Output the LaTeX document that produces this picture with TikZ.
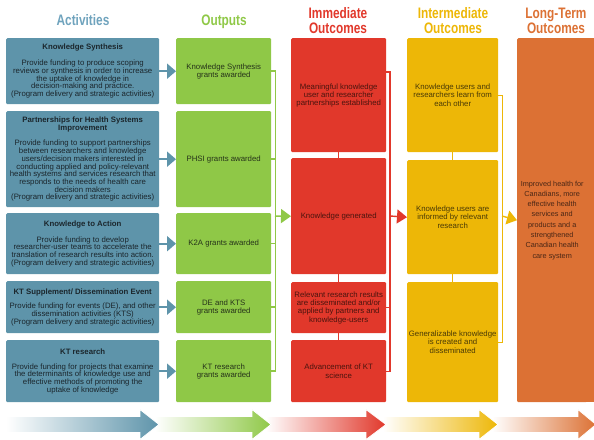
\documentclass[tikz,border=0pt]{standalone}
\usepackage{fontspec}
\setmainfont{Liberation Sans}
\newfontfamily\headfont[FakeStretch=0.78]{Liberation Sans}
\usetikzlibrary{arrows.meta}
\definecolor{actblue}{HTML}{5E94AA}
\definecolor{acthead}{HTML}{6FA3BD}
\definecolor{outgreen}{HTML}{8FC847}
\definecolor{immred}{HTML}{E1382B}
\definecolor{intyel}{HTML}{EDB707}
\definecolor{ltorange}{HTML}{DC7134}
\definecolor{acttext}{HTML}{1B262C}
\definecolor{outtext}{HTML}{26331A}
\definecolor{redtext}{HTML}{4A140E}
\definecolor{yeltext}{HTML}{4A3A06}
\definecolor{ortext}{HTML}{4A2615}
\newcommand\mygradarrow[4]{%
  \shade[left color=white, right color=#4, draw=white, line width=0.8pt]
    (#1,416.5) -- (#2,416.5) -- (#2,409.5) -- (#3,424.5) -- (#2,439.5) -- (#2,432.5) -- (#1,432.5) -- cycle;}
\begin{document}
\begin{tikzpicture}[x=1pt,y=-1pt,
  hd/.style={font=\headfont\bfseries\fontsize{15.2}{15}\selectfont, align=center, inner sep=0pt},
  box/.style={rounded corners=1.2pt, inner sep=1pt, align=center, anchor=north west,
    font=\fontsize{7.8}{7.7}\selectfont},
  act/.style={box, fill=actblue, text=acttext, minimum width=153pt},
  outb/.style={box, fill=outgreen, text=outtext, minimum width=95pt, font=\fontsize{7.8}{8.2}\selectfont},
  immb/.style={box, fill=immred, text=redtext, minimum width=95pt, font=\fontsize{7.8}{8.2}\selectfont},
  intb/.style={box, fill=intyel, text=yeltext, minimum width=91pt, font=\fontsize{7.8}{8.2}\selectfont},
  ltb/.style={box, fill=ltorange, text=ortext, minimum width=70pt, font=\fontsize{7.3}{10.3}\selectfont},
  barrow/.style={draw=actblue, line width=2pt, -{Triangle[length=9pt,width=15pt]}},
  gline/.style={draw=outgreen, line width=1.5pt},
  rline/.style={draw=immred, line width=1.4pt},
  yline/.style={draw=intyel, line width=1.4pt},
  tip/.style={-{Triangle[length=10pt,width=14pt]}}
]
\useasboundingbox (0,0) rectangle (594,439);

% headers
\node[hd, text=acthead, anchor=base] (h1) at (83,25) {Activities};
\node[hd, text=outgreen, anchor=base] (h2) at (224,25.5) {Outputs};
\node[hd, text=immred] (h3) at (338,21) {Immediate\\Outcomes};
\node[hd, text=intyel] (h4) at (453,21) {Intermediate\\Outcomes};
\node[hd, text=ltorange] (h5) at (556,21) {Long-Term\\Outcomes};

% activities
\node[act, minimum height=66pt] (a1) at (6,38) {\textbf{Knowledge Synthesis}\\[8pt]Provide funding to produce scoping\\reviews or synthesis in order to increase\\the uptake of knowledge in\\decision-making and practice.\\(Program delivery and strategic activities)};
\node[act, minimum height=96pt] (a2) at (6,111) {\textbf{Partnerships for Health Systems}\\\textbf{Improvement}\\[8pt]Provide funding to support partnerships\\between researchers and knowledge\\users/decision makers interested in\\conducting applied and policy-relevant\\health systems and services research that\\responds to the needs of health care\\decision makers\\(Program delivery and strategic activities)};
\node[act, minimum height=61pt] (a3) at (6,213) {\textbf{Knowledge to Action}\\[8pt]Provide funding to develop\\researcher-user teams to accelerate the\\translation of research results into action.\\(Program delivery and strategic activities)};
\node[act, minimum height=52pt] (a4) at (6,281) {\textbf{KT Supplement/ Dissemination Event}\\[7pt]Provide funding for events (DE), and other\\dissemination activities (KTS)\\(Program delivery and strategic activities)};
\node[act, minimum height=62pt] (a5) at (6,340) {\textbf{KT research}\\[7pt]Provide funding for projects that examine\\the determinants of knowledge use and\\effective methods of promoting the\\uptake of knowledge};

% outputs
\node[outb, minimum height=66pt] (o1) at (176,38) {Knowledge Synthesis\\grants awarded};
\node[outb, minimum height=96pt] (o2) at (176,111) {PHSI grants awarded};
\node[outb, minimum height=61pt] (o3) at (176,213) {K2A grants awarded};
\node[outb, minimum height=52pt] (o4) at (176,281) {DE and KTS\\grants awarded};
\node[outb, minimum height=62pt] (o5) at (176,340) {KT research\\grants awarded};

% immediate outcomes
\node[immb, minimum height=114pt] (r1) at (291,38) {Meaningful knowledge\\user and researcher\\partnerships established};
\node[immb, minimum height=116pt] (r2) at (291,158) {Knowledge generated};
\node[immb, minimum height=51pt] (r3) at (291,282) {Relevant research results\\are disseminated and/or\\applied by partners and\\knowledge-users};
\node[immb, minimum height=62pt] (r4) at (291,340) {Advancement of KT\\science};

% intermediate outcomes
\node[intb, minimum height=114pt] (y1) at (407,38) {Knowledge users and\\researchers learn from\\each other};
\node[intb, minimum height=114pt] (y2) at (407,160) {Knowledge users are\\informed by relevant\\research};
\node[intb, minimum height=120pt] (y3) at (407,282) {Generalizable knowledge\\is created and\\disseminated};

% long-term outcome
\fill[ltorange] (580,38) rectangle (596,402);
\node[ltb, minimum height=364pt] (lt) at (517,38) {Improved health for\\Canadians, more\\effective health\\services and\\products and a\\strengthened\\Canadian health\\care system};

% activity -> output arrows
\foreach \i in {1,...,5} \draw[barrow] (a\i.east) -- (o\i.west);

% green bracket
\draw[gline] (o1.east) -- ++(4,0) |- (o5.east);
\foreach \i in {2,3,4} \draw[gline] (o\i.east) -- ++(4,0);
\coordinate (gb) at (275,216);
\draw[gline, tip] (gb) -- (r2.west);

% red chain and bracket
\draw[rline] (r1.south) -- (r2.north);
\draw[rline] (r2.south) -- (r3.north);
\draw[rline] (r3.south) -- (r4.north);
\coordinate (rtop) at (386,72);
\draw[rline] (rtop) -- ++(4,0) |- (r4.east);
\draw[rline] (r3.east) -- ++(4,0);
\coordinate (rb) at (390,216);
\draw[rline, tip] (rb) -- (y2.west);

% yellow chain and bracket
\draw[yline] (y1.south) -- (y2.north);
\draw[yline] (y2.south) -- (y3.north);
\draw[yline] (y1.east) -- ++(4,0) |- (y3.east);
\coordinate (yb) at (502,216);
\draw[yline, tip] (yb) -- (lt.west);

% bottom gradient arrows
\mygradarrow{492}{578}{596}{ltorange}
\mygradarrow{383}{479}{498}{intyel}
\mygradarrow{266}{366}{386}{immred}
\mygradarrow{155}{252}{271}{outgreen}
\mygradarrow{6}{140}{159}{actblue}
\end{tikzpicture}
\end{document}
